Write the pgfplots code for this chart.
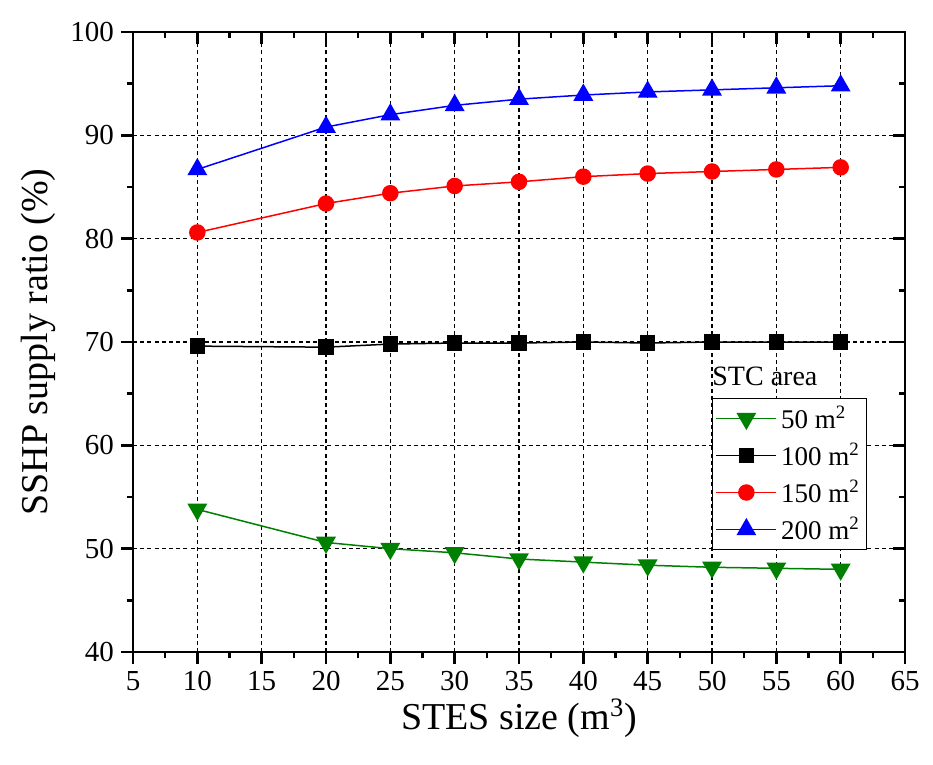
\documentclass[border=0pt]{standalone}
\usepackage{pgfplots}
\pgfplotsset{compat=1.18}
\usepackage{fontspec}
\setmainfont{Liberation Serif}
\definecolor{dgreen}{RGB}{0,128,0}
\pgfplotsset{
  common/.style={
    scale only axis,
    width=386pt, height=310pt,
    xmin=5, xmax=65, ymin=40, ymax=100,
    xtick={5,10,...,65}, ytick={40,50,...,100},
    minor x tick num=1, minor y tick num=1,
    major tick length=6pt, minor tick length=3.2pt,
    every tick/.style={black, line width=1.2pt},
    axis line style={line width=1.4pt},
  }
}
\begin{document}
\begin{tikzpicture}
\begin{axis}[
  common,
  tick align=outside, tick pos=left,
  grid=major,
  major grid style={black, dash pattern=on 2pt off 1.6pt, line width=0.55pt},
  xticklabels={5,10,15,20,25,30,35,40,45,50,55,60,65},
  yticklabels={40,50,60,70,80,90,100},
  tick label style={font=\rmfamily\fontsize{14.5}{16}\selectfont},
  xlabel={STES size (m\textsuperscript{3})}, ylabel={SSHP supply ratio (\%)},
  label style={font=\fontsize{19}{21}\selectfont},
  xlabel style={at={(rel axis cs:0.5,-0.1065)}, anchor=center},
  ylabel style={at={(rel axis cs:-0.123,0.5)}, anchor=center},
  legend style={at={(rel axis cs:0.75,0.4097)}, anchor=north west,
    font=\fontsize{13.5}{16}\selectfont, draw=black, line width=0.6pt,
    row sep=1.5pt, inner sep=1.5pt},
  legend cell align=left,
  legend image code/.code={
    \draw[#1, mark repeat=2, mark phase=2] plot coordinates {(0pt,0pt) (15pt,0pt) (30pt,0pt)};
  },
]
\addplot[dgreen, line width=0.75pt, mark=triangle*, mark options={rotate=180, solid}, mark size=5pt] coordinates {
(10,53.8) (20,50.6) (25,50.0) (30,49.6) (35,49.0) (40,48.7) (45,48.4) (50,48.2) (55,48.1) (60,48.0)};
\addlegendentry{50 m\textsuperscript{2}}
\addplot[black, line width=0.75pt, mark=square*, mark size=3.5pt] coordinates {
(10,69.6) (20,69.5) (25,69.8) (30,69.9) (35,69.9) (40,70.0) (45,69.9) (50,70.0) (55,70.0) (60,70.0)};
\addlegendentry{100 m\textsuperscript{2}}
\addplot[red, line width=0.75pt, mark=*, mark size=3.75pt] coordinates {
(10,80.6) (20,83.4) (25,84.4) (30,85.1) (35,85.5) (40,86.0) (45,86.3) (50,86.5) (55,86.7) (60,86.9)};
\addlegendentry{150 m\textsuperscript{2}}
\addplot[blue, line width=0.75pt, mark=triangle*, mark size=5pt] coordinates {
(10,86.7) (20,90.8) (25,92.0) (30,92.9) (35,93.5) (40,93.9) (45,94.2) (50,94.4) (55,94.6) (60,94.8)};
\addlegendentry{200 m\textsuperscript{2}}
\node[anchor=south west, font=\fontsize{14}{16}\selectfont, inner sep=0pt] at (rel axis cs:0.75,0.428) {STC area};
\coordinate (LL) at (rel axis cs:0,0);
\coordinate (UR) at (rel axis cs:1,1);
\end{axis}
\begin{axis}[
  common,
  tick align=inside, tick pos=right,
  xticklabels={}, yticklabels={},
]
\end{axis}
\path ([shift={(-66.5pt,-56pt)}]LL) rectangle ([shift={(14pt,16pt)}]UR);
\end{tikzpicture}
\end{document}
